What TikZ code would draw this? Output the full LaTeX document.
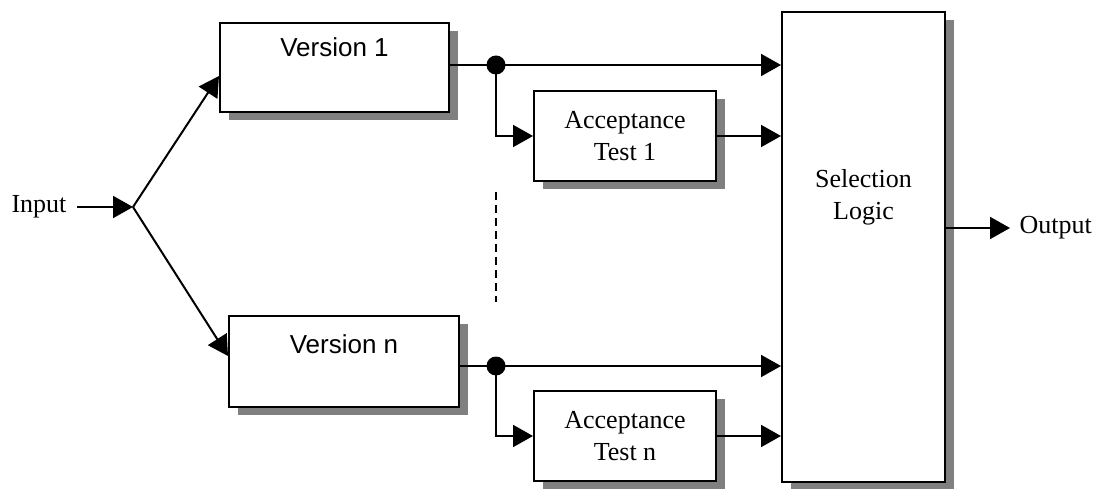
\documentclass[tikz,border=0pt]{standalone}
\usepackage{fontspec}
\setmainfont{Liberation Serif}
\newfontfamily\arialfont{Liberation Sans}
\usetikzlibrary{arrows.meta,shadows,calc}
\definecolor{shadowgray}{HTML}{808080}
\tikzset{
  blockbox/.style={draw, line width=2pt, fill=white, inner sep=0pt,
    general shadow={fill=shadowgray, shadow xshift=9pt, shadow yshift=-8pt}},
  conn/.style={line width=2pt},
  arr/.style={line width=2pt, -{Triangle[length=20pt,width=22pt]}},
  serif/.style={font=\fontsize{26}{32}\selectfont, align=center},
  sans/.style={font=\arialfont\fontsize{26}{32}\selectfont, align=center},
  junction/.style={circle, fill=black, inner sep=0pt, minimum size=19pt}
}
\begin{document}
\begin{tikzpicture}[x=1pt,y=-1pt]
\useasboundingbox (0,0) rectangle (1101,489);

% boxes
\node[blockbox, minimum width=229pt, minimum height=89pt] (v1) at (334.5,67.5) {};
\node[sans] (v1t) at ([yshift=-25pt]v1.north) {Version 1};
\node[blockbox, minimum width=230pt, minimum height=91pt] (vn) at (344,361.5) {};
\node[sans] (vnt) at ([yshift=-29pt]vn.north) {Version n};
\node[blockbox, serif, minimum width=182pt, minimum height=90pt] (at1) at (625,136) {Acceptance\\Test 1};
\node[blockbox, serif, minimum width=182pt, minimum height=90pt] (atn) at (625,436) {Acceptance\\Test n};
\node[blockbox, minimum width=163pt, minimum height=470pt] (sl) at (863.5,247) {};
\node[serif] (slt) at (863.5,197) {Selection\\Logic};

% input
\node[serif, anchor=east] (in) at (70,207) {Input};
\coordinate (split) at (133,207);
\draw[arr] (in.east) ++(7pt,0) coordinate (ins) -- (split);
\draw[arr] (split) -- ([yshift=-8.5pt]v1.west);
\draw[arr] (split) -- ([yshift=5.5pt]vn.west);

% junctions
\node[junction] (d1) at (496,65) {};
\node[junction] (dn) at (496,366) {};

% version 1 branch
\draw[conn] (v1.east |- d1) -- (d1.center);
\draw[arr] (d1.center) -- (sl.west |- d1);
\draw[arr] (d1.center) |- (at1.west);
\draw[arr] (at1.east) -- (sl.west |- at1.east);

% version n branch
\draw[conn] (vn.east |- dn) -- (dn.center);
\draw[arr] (dn.center) -- (sl.west |- dn);
\draw[arr] (dn.center) |- (atn.west);
\draw[arr] (atn.east) -- (sl.west |- atn.east);

% ellipsis
\coordinate (dtop) at (496,192);
\coordinate (dbot) at (496,302);
\draw[line width=1.5pt, dash pattern=on 8pt off 5pt] (dtop) -- (dbot);

% output
\node[serif, anchor=west] (out) at (1016,228) {Output};
\draw[arr] (sl.east |- out.west) -- ([xshift=-6pt]out.west);
\end{tikzpicture}
\end{document}
